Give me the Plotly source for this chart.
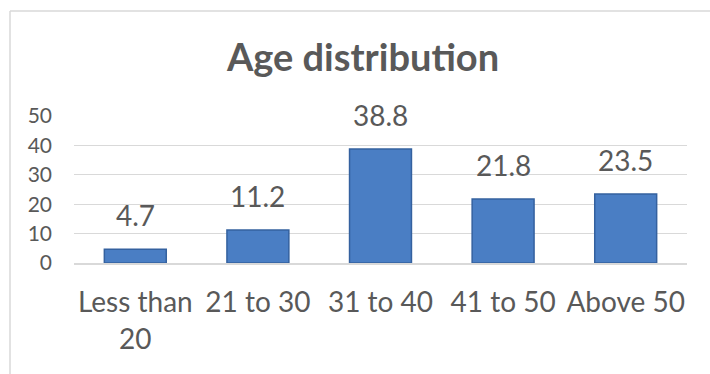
import plotly.graph_objects as go

categories = ["Less than<br>20", "21 to 30", "31 to 40", "41 to 50", "Above 50"]
values = [4.7, 11.2, 38.8, 21.8, 23.5]
y_ticks = [0, 10, 20, 30, 40, 50]

W, H = 710, 374
L, R, T, B = 74, 23, 116, 111
pw = W - L - R
ph = H - T - B

font_color = "#595959"
fam = "Lato, Carlito, Calibri, sans-serif"

fig = go.Figure()
fig.add_trace(go.Bar(
    x=categories, y=values, width=0.505,
    marker=dict(color="#4a7ec4", line=dict(color="#34619f", width=1.5)),
    hoverinfo="skip",
))

annotations = []
for c, v in zip(categories, values):
    annotations.append(dict(
        x=c, y=v, xref="x", yref="y", text=f"{v:g}", showarrow=False,
        yanchor="bottom", yshift=15,
        font=dict(family=fam, size=28, color=font_color),
    ))

def px_x(p):
    return (p - L) / pw

def px_y(p):
    return 1 - (p - T) / ph

shapes = [
    dict(type="line", xref="paper", yref="paper", x0=px_x(10), x1=px_x(10),
         y0=px_y(11), y1=px_y(380), line=dict(color="#d9d9d9", width=1.5)),
    dict(type="line", xref="paper", yref="paper", x0=px_x(10), x1=px_x(715),
         y0=px_y(11), y1=px_y(11), line=dict(color="#d9d9d9", width=1.5)),
]

fig.update_layout(
    width=W, height=H,
    margin=dict(l=L, r=R, t=T, b=B, pad=0),
    paper_bgcolor="white", plot_bgcolor="white",
    showlegend=False,
    title=dict(text="<b>Age distribution</b>", x=363 / W, xanchor="center",
               y=1 - 58 / H, yanchor="middle", xref="container", yref="container",
               font=dict(family=fam, size=38, color=font_color)),
    font=dict(family=fam, color=font_color),
    annotations=annotations,
    shapes=shapes,
    bargap=0.5,
)
fig.update_yaxes(range=[0, 50], tickvals=y_ticks, showgrid=True, gridcolor="#d9d9d9",
                 gridwidth=1, zeroline=False, showline=False, ticks="",
                 tickfont=dict(family=fam, size=21, color=font_color),
                 ticklabelstandoff=21)
fig.update_xaxes(showline=True, linecolor="#d9d9d9", linewidth=1.5, ticks="",
                 tickfont=dict(family=fam, size=28, color=font_color),
                 ticklabelstandoff=14)

fig.write_html("out.html")
